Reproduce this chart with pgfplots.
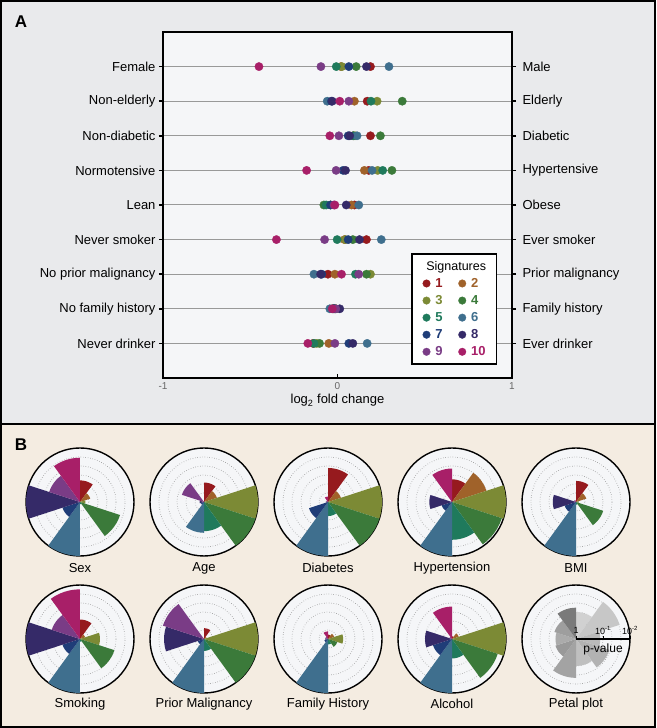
\documentclass[border=0pt]{standalone}
\usepackage{fontspec}
\setmainfont{Liberation Sans}
\usepackage{pgfplots}
\pgfplotsset{compat=1.18}
\usepgfplotslibrary{polar}
\definecolor{sig1}{HTML}{961A1E}
\definecolor{sig2}{HTML}{A0622A}
\definecolor{sig3}{HTML}{7C8A35}
\definecolor{sig4}{HTML}{3B7A3A}
\definecolor{sig5}{HTML}{1F7A5C}
\definecolor{sig6}{HTML}{3F6F8E}
\definecolor{sig7}{HTML}{1F3D78}
\definecolor{sig8}{HTML}{352A68}
\definecolor{sig9}{HTML}{7A3C86}
\definecolor{sig10}{HTML}{A81F68}
\definecolor{panA}{HTML}{E9EAEC}
\definecolor{panB}{HTML}{F4ECE1}
\definecolor{axbg}{HTML}{F5F6F8}
\newcommand\lbl{\fontsize{13}{15}\selectfont}
\newcommand\petalc[3]{%
  \pgfmathsetmacro\ptA{90-36*#1}%
  \pgfmathsetmacro\ptB{\ptA+6}%
  \pgfmathsetmacro\ptC{\ptA+12}%
  \pgfmathsetmacro\ptD{\ptA+18}%
  \pgfmathsetmacro\ptE{\ptA+24}%
  \pgfmathsetmacro\ptF{\ptA+30}%
  \pgfmathsetmacro\ptG{\ptA+36}%
  \edef\ptTemp{\noexpand\addplot[fill=#3,draw=none] coordinates {(\ptA,0) (\ptA,#2) (\ptB,#2) (\ptC,#2) (\ptD,#2) (\ptE,#2) (\ptF,#2) (\ptG,#2) (\ptG,0)};}%
  \ptTemp}
\newcommand\petal[2]{\petalc{#1}{#2}{sig#1}}
\pgfplotsset{
  petalax/.style={anchor=center, scale only axis, width=108pt, height=108pt,
    ymin=0, ymax=1, xtick=\empty, ytick={0.1667,0.3333,0.5,0.6667,0.8333},
    yticklabels={}, ymajorgrids, y grid style={dotted, black!50, line width=0.7pt},
    major tick length=0pt, axis line style={line width=1.4pt, black},
    y axis line style={draw=none}, clip=false},
  dots/.style={only marks, mark=*, mark size=4.2pt, color=#1, mark options={line width=0.3pt},
    legend image code/.code={\draw[mark size=3.8pt, line width=0.3pt] plot coordinates {(0.2cm,0cm)};}}
}
\begin{document}
\begin{tikzpicture}
\useasboundingbox (0,0) rectangle (656pt,728pt);
\fill[panA] (0,304pt) rectangle (656pt,728pt);
\fill[panB] (0,0) rectangle (656pt,304pt);
\draw[line width=2pt] (1pt,304pt) rectangle (655pt,727pt);
\draw[line width=2pt] (1pt,1pt) rectangle (655pt,304pt);
\node[font=\fontsize{17}{19}\selectfont\bfseries] at (21pt,706pt) {A};
\node[font=\fontsize{17}{19}\selectfont\bfseries] at (21pt,283pt) {B};

\begin{axis}[at={(163pt,350pt)}, anchor=south west, scale only axis,
  width=349pt, height=346pt, xmin=-1, xmax=1, ymin=0, ymax=10, clip=false,
  axis background/.style={fill=axbg}, axis line style={line width=1.6pt},
  xtick={-1,0,1}, xticklabels={-1,0,1}, xtick pos=left,
  ytick={1,...,9},
  yticklabels={Never drinker,No family history,No prior malignancy,Never smoker,Lean,Normotensive,Non-diabetic,Non-elderly,Female},
  ymajorgrids, y grid style={black!40, line width=1pt},
  xtick align=inside, ytick align=outside, major tick length=4pt,
  tick style={black, line width=1.6pt},
  yticklabel style={font=\lbl},
  xticklabel style={font=\fontsize{10}{12}\selectfont, text=black!60, yshift=-1pt},
  xlabel={log\textsubscript{2} fold change}, xlabel style={font=\lbl, yshift=2pt},
  legend columns=2, legend cell align=left,
  legend style={at={(rel axis cs:0.711,0.36)}, anchor=north west, draw=black,
    line width=1.4pt, fill=white, font=\fontsize{13}{15}\selectfont\bfseries,
    /tikz/every odd column/.append style={column sep=3pt},
    /tikz/every even column/.append style={column sep=12pt},
    inner xsep=9pt, inner ysep=5pt, row sep=2.5pt}
]
\addlegendimage{empty legend}
\addlegendentry{\makebox[0pt][l]{\hspace*{-9pt}\fontsize{12.5}{15}\mdseries\selectfont\textcolor{black}{Signatures}}}
\addlegendimage{empty legend}
\addlegendentry{}
\addplot[dots=sig1] coordinates {(0.189,9) (0.17,8) (0.189,7) (0.179,6) (0.097,5) (0.166,4) (-0.055,3) (-0.02,2) (-0.14,1)};
\addlegendentry{\textcolor{sig1}{1}}
\addplot[dots=sig2] coordinates {(0.02,9) (0.097,8) (0.09,7) (0.154,6) (0.08,5) (0.04,4) (-0.015,3) (-0.01,2) (-0.05,1)};
\addlegendentry{\textcolor{sig2}{2}}
\addplot[dots=sig3] coordinates {(0.025,9) (0.227,8) (0.10,7) (0.23,6) (-0.04,5) (0.045,4) (0.189,3) (-0.01,2) (-0.12,1)};
\addlegendentry{\textcolor{sig3}{3}}
\addplot[dots=sig4] coordinates {(0.107,9) (0.371,8) (0.246,7) (0.312,6) (-0.078,5) (0.088,4) (0.166,3) (-0.03,2) (-0.103,1)};
\addlegendentry{\textcolor{sig4}{4}}
\addplot[dots=sig5] coordinates {(-0.007,9) (0.192,8) (0.09,7) (0.259,6) (-0.065,5) (-0.002,4) (0.103,3) (-0.02,2) (-0.135,1)};
\addlegendentry{\textcolor{sig5}{5}}
\addplot[dots=sig6] coordinates {(0.295,9) (-0.059,8) (0.112,7) (0.198,6) (0.122,5) (0.251,4) (-0.135,3) (-0.044,2) (0.17,1)};
\addlegendentry{\textcolor{sig6}{6}}
\addplot[dots=sig7] coordinates {(0.065,9) (-0.035,8) (0.061,7) (0.032,6) (-0.04,5) (0.061,4) (-0.09,3) (-0.02,2) (0.065,1)};
\addlegendentry{\textcolor{sig7}{7}}
\addplot[dots=sig8] coordinates {(0.166,9) (-0.03,8) (0.07,7) (0.046,6) (0.05,5) (0.126,4) (-0.097,3) (0.013,2) (0.088,1)};
\addlegendentry{\textcolor{sig8}{8}}
\addplot[dots=sig9] coordinates {(-0.095,9) (0.065,8) (0.008,7) (-0.008,6) (-0.02,5) (-0.074,4) (0.122,3) (-0.01,2) (-0.015,1)};
\addlegendentry{\textcolor{sig9}{9}}
\addplot[dots=sig10] coordinates {(-0.45,9) (0.013,8) (-0.044,7) (-0.177,6) (-0.015,5) (-0.35,4) (0.023,3) (-0.03,2) (-0.17,1)};
\addlegendentry{\textcolor{sig10}{10}}
\node[anchor=west, font=\lbl, xshift=7pt] at (axis cs:1,9) {Male};
\node[anchor=west, font=\lbl, xshift=7pt] at (axis cs:1,8) {Elderly};
\node[anchor=west, font=\lbl, xshift=7pt] at (axis cs:1,7) {Diabetic};
\node[anchor=west, font=\lbl, xshift=7pt] at (axis cs:1,6) {Hypertensive};
\node[anchor=west, font=\lbl, xshift=7pt] at (axis cs:1,5) {Obese};
\node[anchor=west, font=\lbl, xshift=7pt] at (axis cs:1,4) {Ever smoker};
\node[anchor=west, font=\lbl, xshift=7pt] at (axis cs:1,3) {Prior malignancy};
\node[anchor=west, font=\lbl, xshift=7pt] at (axis cs:1,2) {Family history};
\node[anchor=west, font=\lbl, xshift=7pt] at (axis cs:1,1) {Ever drinker};
\end{axis}

% ---- Panel B: petal plots ----
% Sex
\fill[axbg] (80pt,226pt) circle (54pt);
\begin{polaraxis}[petalax, at={(80pt,226pt)}]
\petal{1}{0.40}\petal{2}{0.20}\petal{3}{0.10}\petal{4}{0.78}\petal{5}{0.04}
\petal{6}{1.0}\petal{7}{0.34}\petal{8}{1.0}\petal{9}{0.60}\petal{10}{0.82}
\end{polaraxis}
\node[font=\lbl] at (80pt,160pt) {Sex};
% Age
\fill[axbg] (204pt,226pt) circle (54pt);
\begin{polaraxis}[petalax, at={(204pt,226pt)}]
\petal{1}{0.36}\petal{2}{0.25}\petal{3}{1.0}\petal{4}{1.0}\petal{5}{0.54}
\petal{6}{0.57}\petal{7}{0.06}\petal{8}{0.08}\petal{9}{0.43}\petal{10}{0.02}
\end{polaraxis}
\node[font=\lbl] at (204pt,160pt) {Age};
% Diabetes
\fill[axbg] (328pt,226pt) circle (54pt);
\begin{polaraxis}[petalax, at={(328pt,226pt)}]
\petal{1}{0.63}\petal{2}{0.25}\petal{3}{1.0}\petal{4}{1.0}\petal{5}{0.26}
\petal{6}{1.0}\petal{7}{0.37}\petal{8}{0.04}\petal{9}{0.03}\petal{10}{0.10}
\end{polaraxis}
\node[font=\lbl] at (328pt,160pt) {Diabetes};
% Hypertension
\fill[axbg] (452pt,226pt) circle (54pt);
\begin{polaraxis}[petalax, at={(452pt,226pt)}]
\petal{1}{0.42}\petal{2}{0.67}\petal{3}{1.0}\petal{4}{0.97}\petal{5}{0.70}
\petal{6}{1.0}\petal{7}{0.20}\petal{8}{0.42}\petal{9}{0.02}\petal{10}{0.62}
\end{polaraxis}
\node[font=\lbl] at (452pt,160pt) {Hypertension};
% BMI
\fill[axbg] (576pt,226pt) circle (54pt);
\begin{polaraxis}[petalax, at={(576pt,226pt)}]
\petal{1}{0.39}\petal{2}{0.20}\petal{3}{0.05}\petal{4}{0.53}\petal{5}{0.05}
\petal{6}{1.0}\petal{7}{0.22}\petal{8}{0.43}\petal{9}{0.04}\petal{10}{0.03}
\end{polaraxis}
\node[font=\lbl] at (576pt,160pt) {BMI};
% Smoking
\fill[axbg] (80pt,89pt) circle (54pt);
\begin{polaraxis}[petalax, at={(80pt,89pt)}]
\petal{1}{0.36}\petal{2}{0.10}\petal{3}{0.37}\petal{4}{0.67}\petal{5}{0.05}
\petal{6}{1.0}\petal{7}{0.34}\petal{8}{1.0}\petal{9}{0.55}\petal{10}{0.92}
\end{polaraxis}
\node[font=\lbl] at (80pt,24pt) {Smoking};
% Prior Malignancy
\fill[axbg] (204pt,89pt) circle (54pt);
\begin{polaraxis}[petalax, at={(204pt,89pt)}]
\petal{1}{0.20}\petal{2}{0.05}\petal{3}{1.0}\petal{4}{1.0}\petal{5}{0.22}
\petal{6}{1.0}\petal{7}{0.12}\petal{8}{0.74}\petal{9}{0.80}\petal{10}{0.02}
\end{polaraxis}
\node[font=\lbl] at (204pt,24pt) {Prior Malignancy};
% Family History
\fill[axbg] (328pt,89pt) circle (54pt);
\begin{polaraxis}[petalax, at={(328pt,89pt)}]
\petal{1}{0.08}\petal{2}{0.12}\petal{3}{0.28}\petal{4}{0.18}\petal{5}{0.10}
\petal{6}{1.0}\petal{7}{0.07}\petal{8}{0.05}\petal{9}{0.05}\petal{10}{0.14}
\end{polaraxis}
\node[font=\lbl] at (328pt,24pt) {Family History};
% Alcohol
\fill[axbg] (452pt,89pt) circle (54pt);
\begin{polaraxis}[petalax, at={(452pt,89pt)}]
\petal{1}{0.05}\petal{2}{0.13}\petal{3}{1.0}\petal{4}{0.89}\petal{5}{0.36}
\petal{6}{1.0}\petal{7}{0.37}\petal{8}{0.50}\petal{9}{0.05}\petal{10}{0.60}
\end{polaraxis}
\node[font=\lbl] at (452pt,24pt) {Alcohol};
% Petal plot key
\fill[axbg] (576pt,89pt) circle (54pt);
\begin{polaraxis}[petalax, at={(576pt,89pt)}]
\petalc{1}{0.50}{black!18}\petalc{2}{0.85}{black!22}\petalc{3}{0.45}{black!27}
\petalc{4}{0.65}{black!30}\petalc{5}{0.50}{black!25}\petalc{6}{0.72}{black!36}
\petalc{7}{0.40}{black!40}\petalc{8}{0.38}{black!33}\petalc{9}{0.42}{black!38}
\petalc{10}{0.58}{black!52}
\addplot[black, line width=1.2pt] coordinates {(0,0) (0,1)};
\draw[line width=1pt] (axis cs:0,0) -- ++(0,3pt);
\draw[line width=1pt] (axis cs:0,0.5) -- ++(0,3pt);
\draw[line width=1pt] (axis cs:0,1) -- ++(0,3pt);
\node[anchor=south, font=\fontsize{9}{10}\selectfont, yshift=2pt] at (axis cs:0,0) {1};
\node[anchor=south, font=\fontsize{9}{10}\selectfont, yshift=1pt] at (axis cs:0,0.5) {10\textsuperscript{-1}};
\node[anchor=south, font=\fontsize{9}{10}\selectfont, yshift=1pt] at (axis cs:0,1) {10\textsuperscript{-2}};
\node[anchor=north, font=\fontsize{12}{14}\selectfont, yshift=-1pt] at (axis cs:0,0.5) {p-value};
\end{polaraxis}
\node[font=\lbl] at (576pt,24pt) {Petal plot};
\end{tikzpicture}
\end{document}
